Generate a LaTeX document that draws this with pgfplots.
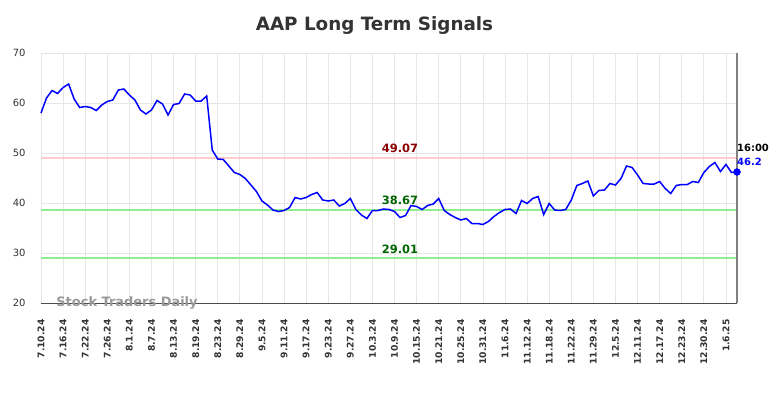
\documentclass[border=0pt]{standalone}
\usepackage{fontspec}
\setmainfont{DejaVu Sans}
\usepackage{pgfplots}
\pgfplotsset{compat=1.18}
\usepackage{pgfplotstable}
\definecolor{ttl}{HTML}{333333}
\definecolor{gridc}{HTML}{E6E6E6}
\definecolor{resc}{HTML}{FFCCCC}
\definecolor{supc}{HTML}{90EE90}
\definecolor{dred}{HTML}{8B0000}
\definecolor{dgreen}{HTML}{006400}
\pgfplotstableread{
x y
0 58.0
1 61.0
2 62.5
3 61.9
4 63.1
5 63.8
6 60.8
7 59.1
8 59.3
9 59.1
10 58.5
11 59.6
12 60.3
13 60.6
14 62.6
15 62.8
16 61.6
17 60.6
18 58.6
19 57.8
20 58.6
21 60.5
22 59.8
23 57.6
24 59.7
25 59.9
26 61.8
27 61.6
28 60.4
29 60.4
30 61.4
31 50.6
32 48.8
33 48.7
34 47.4
35 46.1
36 45.7
37 44.9
38 43.6
39 42.3
40 40.4
41 39.6
42 38.6
43 38.3
44 38.5
45 39.1
46 41.1
47 40.8
48 41.1
49 41.7
50 42.1
51 40.6
52 40.4
53 40.6
54 39.4
55 39.9
56 40.9
57 38.7
58 37.6
59 36.9
60 38.5
61 38.5
62 38.8
63 38.7
64 38.3
65 37.1
66 37.5
67 39.5
68 39.3
69 38.7
70 39.5
71 39.8
72 40.9
73 38.5
74 37.7
75 37.1
76 36.6
77 36.9
78 35.9
79 35.9
80 35.7
81 36.3
82 37.3
83 38.1
84 38.7
85 38.8
86 37.9
87 40.5
88 39.9
89 40.9
90 41.3
91 37.7
92 39.9
93 38.6
94 38.5
95 38.7
96 40.6
97 43.5
98 43.9
99 44.4
100 41.4
101 42.5
102 42.6
103 43.9
104 43.6
105 44.9
106 47.4
107 47.1
108 45.6
109 43.9
110 43.8
111 43.8
112 44.3
113 42.9
114 41.9
115 43.5
116 43.7
117 43.7
118 44.3
119 44.1
120 46.1
121 47.3
122 48.1
123 46.3
124 47.7
125 46.1
126 46.2
}\pricedata
\begin{document}
\begin{tikzpicture}
\path[use as bounding box] (-41bp,-95bp) rectangle (743bp,303bp);
\begin{axis}[
  at={(0,0)}, anchor=south west,
  scale only axis, width=696bp, height=250bp,
  xmin=0, xmax=126, ymin=20, ymax=70,
  axis line style={draw=none},
  xtick={0,4,...,124},
  xticklabels={7.10.24,7.16.24,7.22.24,7.26.24,8.1.24,8.7.24,8.13.24,8.19.24,8.23.24,8.29.24,9.5.24,9.11.24,9.17.24,9.23.24,9.27.24,10.3.24,10.9.24,10.15.24,10.21.24,10.25.24,10.31.24,11.6.24,11.12.24,11.18.24,11.22.24,11.29.24,12.5.24,12.11.24,12.17.24,12.23.24,12.30.24,1.6.25},
  ytick={20,30,...,70},
  major tick length=0pt,
  grid=major,
  grid style={gridc, line width=0.8bp},
  xticklabel style={rotate=90, anchor=east, xshift=-13bp, font=\bfseries\fontsize{9.2}{9.2}\selectfont, text=ttl},
  yticklabel style={font=\fontsize{10}{10}\selectfont, text=ttl, xshift=-12bp},
  /pgf/number format/assume math mode=true,
  clip=false,
]
\addplot[resc, line width=2bp, forget plot] coordinates {(0,49.07) (126,49.07)};
\addplot[supc, line width=2bp, forget plot] coordinates {(0,38.67) (126,38.67)};
\addplot[supc, line width=2bp, forget plot] coordinates {(0,29.01) (126,29.01)};
\draw[color=black!70, line width=1bp] (rel axis cs:0,0) -- (rel axis cs:1,0);
\draw[color=black!50, line width=2bp] (rel axis cs:1,0) -- (rel axis cs:1,1);
\addplot[blue, line width=1.5bp, mark=none] table[x=x, y=y] {\pricedata};
\addplot[blue, only marks, mark=*, mark size=3.5bp] coordinates {(126,46.2)};
\node[font=\bfseries\fontsize{11.5}{11.5}\selectfont, text=dred, anchor=south] at (axis cs:65,49.3) {49.07};
\node[font=\bfseries\fontsize{11.5}{11.5}\selectfont, text=dgreen, anchor=south] at (axis cs:65,38.9) {38.67};
\node[font=\bfseries\fontsize{11.5}{11.5}\selectfont, text=dgreen, anchor=south] at (axis cs:65,29.2) {29.01};
\node[font=\bfseries\fontsize{10}{10}\selectfont, anchor=west, inner sep=0pt] at (axis cs:126,51) {16:00};
\node[font=\bfseries\fontsize{10}{10}\selectfont, text=blue, anchor=west, inner sep=0pt] at (axis cs:126,48.2) {46.2};
\node[font=\bfseries\fontsize{13}{13}\selectfont, text=black!40] at (rel axis cs:0.1236,0.0) {Stock Traders Daily};
\end{axis}
\node[font=\bfseries\fontsize{18.4}{18.4}\selectfont, text=ttl] at (333.5bp,277bp) {AAP Long Term Signals};
\end{tikzpicture}
\end{document}
